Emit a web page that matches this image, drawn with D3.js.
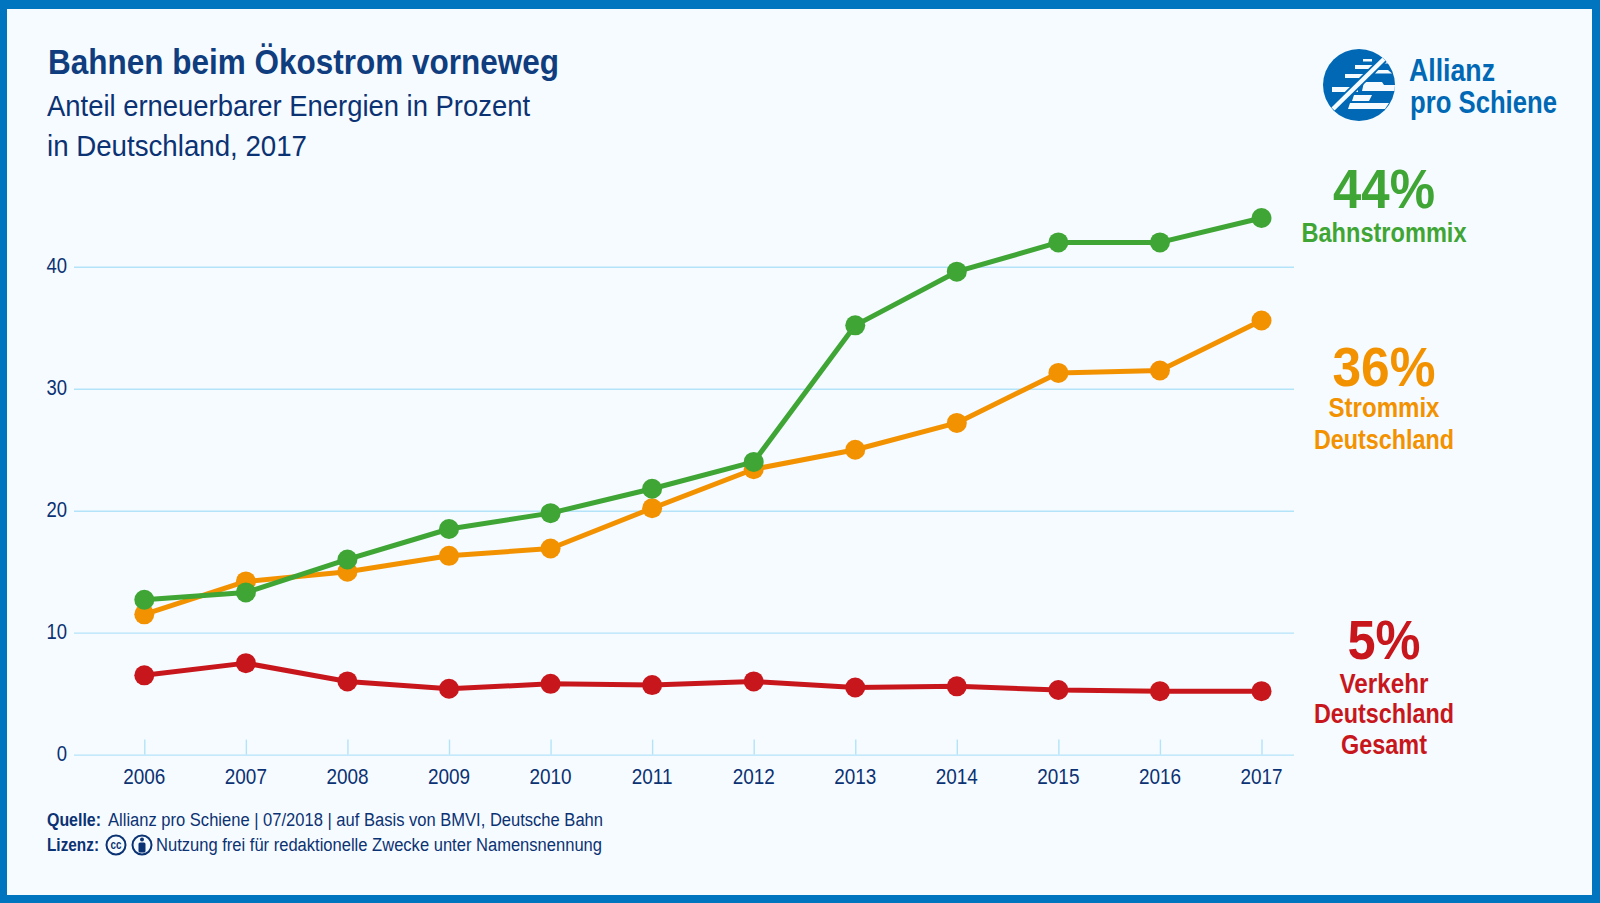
<!DOCTYPE html>
<html>
<head>
<meta charset="utf-8">
<script src="https://cdn.jsdelivr.net/npm/d3@7"></script>
<style>
  html, body { margin: 0; padding: 0; background: #fff; }
  svg { display: block; }
  text { font-family: "Liberation Sans", sans-serif; }
</style>
</head>
<body>
<svg id="chart" width="1600" height="903"></svg>
<script>
var years = [2006, 2007, 2008, 2009, 2010, 2011, 2012, 2013, 2014, 2015, 2016, 2017];
var bahnstrom = [12.7, 13.3, 16, 18.5, 19.8, 21.8, 24, 35.2, 39.6, 42, 42, 44];
var strommix = [11.5, 14.2, 15, 16.3, 16.9, 20.2, 23.4, 25, 27.2, 31.3, 31.5, 35.6];
var verkehr = [6.5, 7.5, 6, 5.4, 5.8, 5.7, 6, 5.5, 5.6, 5.3, 5.2, 5.2];
var yTicks = [0, 10, 20, 30, 40];

var blue = "#0075bf", navy = "#0b3273", grid = "#b3e3f9";
var green = "#3fa535", orange = "#f39200", red = "#c8171c";
var paper = "#f6fbff";

var svg = d3.select("#chart");

// frame
svg.append("rect").attr("width", 1600).attr("height", 903).attr("fill", blue);
svg.append("rect").attr("x", 7).attr("y", 9).attr("width", 1585).attr("height", 886).attr("fill", paper);

var x = d3.scalePoint().domain(years).range([144.3, 1261.5]);
var y = d3.scaleLinear().domain([0, 40]).range([754.6, 266.8]);

// only a regular-width Helvetica clone is installed, so squeeze the glyphs
function squeeze(sel, ratio) {
  sel.each(function() {
    this.setAttribute("lengthAdjust", "spacingAndGlyphs");
    this.setAttribute("textLength", this.getComputedTextLength() * ratio);
  });
}

// grid lines + y labels
var yAxis = d3.axisLeft(y).tickValues(yTicks).tickSize(0).tickPadding(7);
var gy = svg.append("g").attr("transform", "translate(74,0)").call(yAxis);
gy.select(".domain").remove();
gy.selectAll("text").attr("font-size", 22).attr("fill", navy).attr("dy", "0.28em")
  .style("font-family", '"Liberation Sans"').call(squeeze, 0.84);
gy.selectAll(".tick").append("line")
  .attr("x1", 0).attr("x2", 1220)
  .attr("stroke", grid).attr("stroke-width", 1.4);

// x axis, ticks go upward from the baseline
var xAxis = d3.axisBottom(x).tickSize(-15).tickPadding(0);
var gx = svg.append("g").attr("transform", "translate(0,754.6)").call(xAxis);
gx.select(".domain").remove();
gx.selectAll("line").attr("stroke", grid).attr("stroke-width", 1.4);
gx.selectAll("text").attr("x", -0.5).attr("y", 29).attr("dy", 0).attr("font-size", 22).attr("fill", navy)
  .style("font-family", '"Liberation Sans"').call(squeeze, 0.86);

// series
var line = d3.line().x(function(d, i) { return x(years[i]); }).y(function(d) { return y(d); });

[[verkehr, red], [strommix, orange], [bahnstrom, green]].forEach(function(s) {
  var g = svg.append("g");
  g.append("path").attr("d", line(s[0])).attr("fill", "none")
    .attr("stroke", s[1]).attr("stroke-width", 5).attr("stroke-linejoin", "round");
  g.selectAll("circle").data(s[0]).enter().append("circle")
    .attr("cx", function(d, i) { return x(years[i]); })
    .attr("cy", function(d) { return y(d); })
    .attr("r", 10)
    .attr("fill", s[1]);
});

// w = width of the text as measured in the reference
function label(txt, px, py, size, color, w, opts) {
  opts = opts || {};
  return svg.append("text").text(txt)
    .attr("x", px).attr("y", py)
    .attr("font-size", size)
    .attr("fill", color)
    .attr("font-weight", opts.bold ? 700 : 400)
    .attr("text-anchor", opts.anchor || "start")
    .attr("lengthAdjust", "spacingAndGlyphs")
    .attr("textLength", w);
}

// heading
label("Bahnen beim Ökostrom vorneweg", 48, 74, 35, "#0f3d7e", 511, {bold: true});
label("Anteil erneuerbarer Energien in Prozent", 47, 116, 30, navy, 483);
label("in Deutschland, 2017", 47, 156, 30, navy, 260);

// end labels
var mid = {bold: true, anchor: "middle"};
label("44%", 1384, 208, 56, green, 102, mid);
label("Bahnstrommix", 1384, 242, 27, green, 165, mid);
label("36%", 1384, 386, 56, orange, 103, mid);
label("Strommix", 1384, 417, 27, orange, 111, mid);
label("Deutschland", 1384, 449, 27, orange, 140, mid);
label("5%", 1384, 659, 56, red, 73, mid);
label("Verkehr", 1384, 693, 27, red, 89, mid);
label("Deutschland", 1384, 723, 27, red, 140, mid);
label("Gesamt", 1384, 754, 27, red, 86, mid);

// footer
label("Quelle:", 47, 826, 18, navy, 54, {bold: true});
label("Allianz pro Schiene | 07/2018 | auf Basis von BMVI, Deutsche Bahn", 108, 826, 18, navy, 495);
label("Lizenz:", 47, 851, 18, navy, 52, {bold: true});
label("Nutzung frei für redaktionelle Zwecke unter Namensnennung", 156, 851, 18, navy, 446);

// cc badges
var cc = svg.append("g");
cc.append("circle").attr("cx", 116).attr("cy", 845).attr("r", 9.5).attr("fill", "none").attr("stroke", navy).attr("stroke-width", 2);
label("cc", 116, 849, 13, navy, 11, mid);
cc.append("circle").attr("cx", 142).attr("cy", 845).attr("r", 9.5).attr("fill", "none").attr("stroke", navy).attr("stroke-width", 2);
cc.append("circle").attr("cx", 142).attr("cy", 839.5).attr("r", 2).attr("fill", navy);
cc.append("rect").attr("x", 138.5).attr("y", 842.5).attr("width", 7).attr("height", 10).attr("rx", 1.5).attr("fill", navy);

// logo: white stripes clipped to the disc
var logoBlue = "#0068b4";
svg.append("clipPath").attr("id", "disc").append("circle").attr("cx", 1359).attr("cy", 85).attr("r", 36);
var logo = svg.append("g").attr("clip-path", "url(#disc)");
logo.append("rect").attr("x", 1320).attr("y", 45).attr("width", 80).attr("height", 80).attr("fill", logoBlue);
["M1363 59H1372V61.5H1363Z", "M1355 65H1375V69H1355Z", "M1345 74H1368V78H1345Z", "M1332 87H1358V92H1332Z",
 "M1383 61H1388V63.5H1383Z", "M1377 70H1388L1392 73.5H1375Z",
 "M1364 82H1382L1384 85H1396V91H1362Z", "M1354 95H1372L1369 101H1352Z", "M1350 103H1389L1385 109H1348Z"
].forEach(function(d) {
  logo.append("path").attr("d", d).attr("fill", paper);
});
logo.append("line").attr("x1", 1333).attr("y1", 109).attr("x2", 1386).attr("y2", 57)
  .attr("stroke", logoBlue).attr("stroke-width", 8);
logo.append("line").attr("x1", 1333).attr("y1", 109).attr("x2", 1386).attr("y2", 57)
  .attr("stroke", paper).attr("stroke-width", 4.5);
label("Allianz", 1409, 81, 31, logoBlue, 86, {bold: true});
label("pro Schiene", 1410, 113, 31, logoBlue, 147, {bold: true});
</script>
</body>
</html>
